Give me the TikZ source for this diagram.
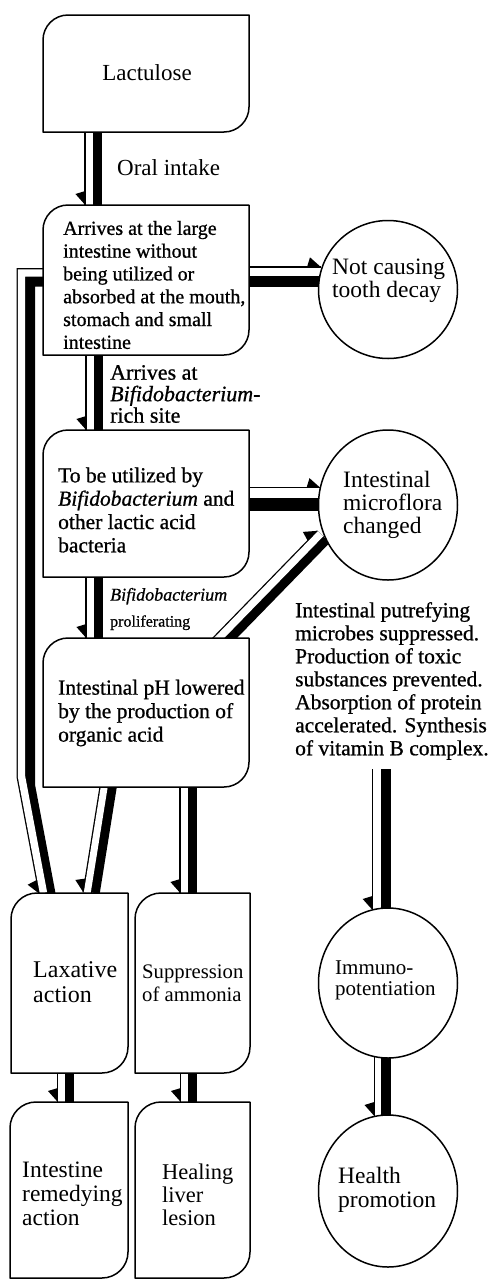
\documentclass[tikz,border=0pt]{standalone}
\usepackage{fontspec}
\setmainfont{Liberation Serif}
\newfontfamily\heavyfont{Liberation Serif}[FakeBold=0.8]
\usetikzlibrary{calc,shapes.geometric,decorations.markings}
\pgfdeclarelayer{bg}
\pgfdeclarelayer{boxes}
\pgfsetlayers{bg,boxes,main}
\newcommand\myfs[2]{\fontsize{#1}{#2}\selectfont}
% leaf-shaped box outline drawn around an (invisible) rectangle node
\newcommand\leaf[2][25]{%
  \begin{pgfonlayer}{boxes}
  \draw[boxline] (#2.south west) -- ([yshift=-#1pt]#2.north west)
    arc[start angle=180,end angle=90,radius=#1pt] -- (#2.north east)
    -- ([yshift=#1pt]#2.south east)
    arc[start angle=0,end angle=-90,radius=#1pt] -- cycle;
  \end{pgfonlayer}}
% shadowed connector: #1 band width, #2 shift of the light band, #3 side of barb, #4 path
\newcommand\conn[4]{%
  \begin{pgfonlayer}{bg}
  \draw[line width=#1pt] #4;
  \begin{scope}[transform canvas={shift={#2}}]
    \draw[line width=#1pt, postaction={decorate, decoration={markings,
      mark=at position 0.9999 with {%
        \pgfmathsetmacro\cnBo{#3*(#1/2-0.8)}%
        \pgfmathsetmacro\cnBt{#3*(#1/2+9)}%
        \fill (0pt,\cnBo pt) -- (-14pt,\cnBo pt) -- (-11pt,\cnBt pt) -- cycle;}}}] #4;
    \draw[line width=#1pt-2.6pt, white] #4;
  \end{scope}
  \end{pgfonlayer}}
\tikzset{
  boxn/.style={rectangle, draw=none, inner sep=0pt, outer sep=0pt},
  boxline/.style={line width=1.5pt, fill=white, line join=round},
  circ/.style={ellipse, draw, line width=1.5pt, fill=white, inner sep=0pt,
    outer sep=0pt, minimum width=139pt},
  txt/.style={inner sep=0pt, align=left, anchor=west},
}
\begin{document}
\begin{tikzpicture}[x=1pt,y=1pt]
\useasboundingbox (0,0) rectangle (493,-1280);
\begin{pgfonlayer}{bg}\fill[white] (0,0) rectangle (493,-1280);\end{pgfonlayer}

% boxes
\node[boxn, minimum width=206pt, minimum height=117pt] (lact) at (146,-73.5) {};
\node[boxn, minimum width=206pt, minimum height=150pt] (b2) at (146,-280) {};
\node[boxn, minimum width=206pt, minimum height=147pt] (b3) at (146,-503.5) {};
\node[boxn, minimum width=206pt, minimum height=149pt] (b4) at (146,-712.5) {};
\node[boxn, minimum width=117pt, minimum height=180pt] (lax) at (69.5,-983) {};
\node[boxn, minimum width=115pt, minimum height=180pt] (supp) at (192.5,-983) {};
\node[boxn, minimum width=118pt, minimum height=176pt] (intrem) at (69,-1190) {};
\node[boxn, minimum width=115pt, minimum height=176pt] (heal) at (192.5,-1190) {};
\leaf{lact}\leaf{b2}\leaf{b3}\leaf{b4}
\leaf[26]{lax}\leaf[26]{supp}\leaf[26]{intrem}\leaf[26]{heal}

% circles
\node[circ, minimum height=138pt] (c1) at (388,-289.5) {};
\node[circ, minimum height=150pt] (c2) at (388,-505) {};
\node[circ, minimum height=150pt] (c3) at (388,-983) {};
\node[circ, minimum height=152pt] (c4) at (388,-1191) {};

% texts
\node[txt, anchor=center, font=\myfs{23}{26}] (tlact) at (147,-73) {Lactulose};
\node[txt, font=\myfs{23}{26}] (toral) at (117,-168) {Oral intake};
\node[txt, font=\heavyfont\myfs{20}{22.8}] (tb2) at (63,-285) {Arrives at the large\\intestine without\\being utilized or\\absorbed at the mouth,\\stomach and small\\intestine};
\node[txt, font=\heavyfont\myfs{22}{21.5}] (tarr) at (110,-394) {Arrives at\\\textit{Bifidobacterium-}\\rich site};
\node[txt, font=\heavyfont\myfs{21.5}{23.3}] (tb3) at (58,-510) {To be utilized by\\\textit{Bifidobacterium} and\\other lactic acid\\bacteria};
\node[txt, font=\heavyfont\myfs{18}{26}] (tprol) at (110,-609) {\textit{Bifidobacterium}\\{\myfs{16}{26}proliferating}};
\node[txt, font=\heavyfont\myfs{21.5}{23.5}] (tb4) at (58,-713) {Intestinal pH lowered\\by the production of\\organic acid};
\node[txt, font=\heavyfont\myfs{21.5}{23}] (tside) at (295,-681) {Intestinal putrefying\\microbes suppressed.\\Production of toxic\\substances prevented.\\Absorption of protein\\accelerated. Synthesis\\of vitamin B complex.};
\node[txt, font=\myfs{23.5}{22.5}] (tc1) at (332,-281) {Not causing\\tooth decay};
\node[txt, font=\myfs{23.5}{23}] (tc2) at (343,-505) {Intestinal\\microflora\\changed};
\node[txt, font=\myfs{21}{21}] (tc3) at (335,-980) {Immuno-\\potentiation};
\node[txt, font=\myfs{23.5}{24}] (tc4) at (338,-1190) {Health\\promotion};
\node[txt, font=\myfs{24}{25}] (tlax) at (33,-982) {Laxative\\action};
\node[txt, font=\myfs{20.7}{23}] (tsupp) at (142,-983) {Suppression\\of ammonia};
\node[txt, font=\myfs{23.5}{24}] (tintrem) at (22,-1194) {Intestine\\remedying\\action};
\node[txt, font=\myfs{22.5}{23}] (theal) at (162,-1195) {Healing\\liver\\lesion};

% connectors
\coordinate (bend) at (30,-785);
\coordinate (vit) at (385,-769);
\conn{9.5}{(-7.8,0)}{-1}{($(lact.south)+(-49,0)$) -- ($(b2.north)+(-49,0)$)}
\conn{11}{(0,9.65)}{1}{($(b2.east)+(0,-1.5)$) -- ($(b2.east -| c1.west)+(2.5,-1.5)$)}
\conn{9.5}{(-7.8,0)}{-1}{($(b2.south)+(-48,0)$) -- ($(b3.north)+(-48,0)$)}
\conn{12}{(0,11.35)}{1}{($(b3.east)+(0,-1)$) -- ($(b3.east -| c2.west)+(2,-1)$)}
\conn{9.5}{(-7.8,0)}{-1}{($(b3.south)+(-48,0)$) -- ($(b4.north)+(-48,0)$)}
\conn{10}{(-5.6,5.5)}{1}{($(b4.north)+(73.8,-10.5)$) -- (c2.209)}
\conn{10}{(-8.5,8.5)}{-1}{($(b2.west)+(8.5,-1.5)$) -| (bend) -- ($(lax.north west)+(41,-8.5)$)}
\conn{9.5}{(-7.8,0)}{-1}{($(b4.south)+(-34,0)$) -- ($(lax.north)+(25.5,0)$)}
\conn{9.5}{(-7.8,0)}{-1}{($(b4.south -| supp.north)+(-0.5,0)$) -- ($(supp.north)+(-0.5,0)$)}
\conn{11}{(-7.8,0)}{-1}{(vit) -- ($(vit |- c3.north)+(0,-2)$)}
\conn{9}{(-8,0)}{-1}{($(c3.south)+(-2,2)$) -- ($(c4.north)+(-2,-1)$)}
\conn{9}{(-8,0)}{-1}{(lax.south) -- (lax.south |- intrem.north)}
\conn{9}{(-8,0)}{-1}{(supp.south) -- (supp.south |- heal.north)}
\end{tikzpicture}
\end{document}
